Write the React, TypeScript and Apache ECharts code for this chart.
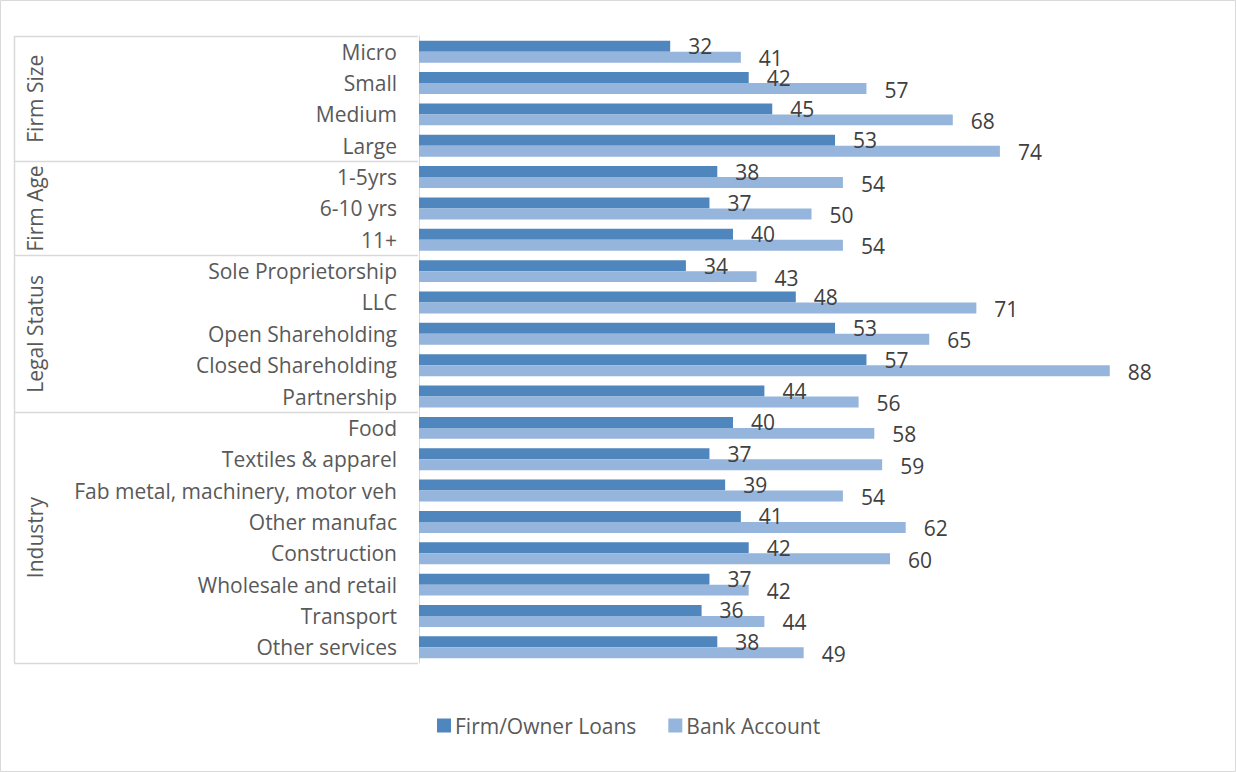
import React, { useEffect, useRef } from "react";
import * as echarts from "echarts";

const categories = [
  "Micro", "Small", "Medium", "Large",
  "1-5yrs", "6-10 yrs", "11+",
  "Sole Proprietorship", "LLC", "Open Shareholding", "Closed Shareholding", "Partnership",
  "Food", "Textiles & apparel", "Fab metal, machinery, motor veh", "Other manufac",
  "Construction", "Wholesale and retail", "Transport", "Other services",
];
const firmOwnerLoans = [32, 42, 45, 53, 38, 37, 40, 34, 48, 53, 57, 44, 40, 37, 39, 41, 42, 37, 36, 38];
const bankAccount = [41, 57, 68, 74, 54, 50, 54, 43, 71, 65, 88, 56, 58, 59, 54, 62, 60, 42, 44, 49];
const groups = [
  { name: "Firm Size", first: 0, last: 3 },
  { name: "Firm Age", first: 4, last: 6 },
  { name: "Legal Status", first: 7, last: 11 },
  { name: "Industry", first: 12, last: 19 },
];

const FONT = "'Open Sans', sans-serif";
const FS = 21;
const LINE = "#d9d9d9";

export default function App() {
  const ref = useRef<HTMLDivElement>(null);
  useEffect(() => {
    document.body.style.margin = "0";
    const chart = echarts.init(ref.current!, null, { renderer: "svg" });
    chart.setOption({
      animation: false,
      backgroundColor: "#ffffff",
      textStyle: { fontFamily: FONT },
      grid: { left: 419, right: 32, top: 36, bottom: 109, containLabel: false },
      xAxis: {
        type: "value", min: 0, max: 100,
        show: false, splitLine: { show: false },
      },
      yAxis: {
        type: "category", data: categories, inverse: true,
        axisLine: { show: true, lineStyle: { color: LINE, width: 1 } },
        axisTick: { show: false },
        axisLabel: { color: "#595959", fontSize: FS, fontFamily: FONT, margin: 22 },
      },
      legend: {
        data: ["Firm/Owner Loans", "Bank Account"],
        left: 432, top: 710,
        itemWidth: 14, itemHeight: 14, itemGap: 32,
        icon: "rect",
        textStyle: { color: "#595959", fontSize: FS, fontFamily: FONT, padding: [0, 0, 0, -1] },
      },
      series: [
        {
          name: "Firm/Owner Loans", type: "bar", data: firmOwnerLoans,
          barGap: "0%", barCategoryGap: "30%",
          itemStyle: { color: "#4F86BD" },
          label: { show: true, position: "right", distance: 18, color: "#404040", fontSize: FS, fontFamily: FONT, offset: [0, 0] },
        },
        {
          name: "Bank Account", type: "bar", data: bankAccount,
          itemStyle: { color: "#95B5DC" },
          label: { show: true, position: "right", distance: 18, color: "#404040", fontSize: FS, fontFamily: FONT, offset: [0, 1] },
        },
      ],
    });

    const p0 = chart.convertToPixel({ yAxisIndex: 0 }, categories[0]) as number;
    const p1 = chart.convertToPixel({ yAxisIndex: 0 }, categories[1]) as number;
    const band = p1 - p0;
    const gLeft = 14;
    const gRight = 418;
    const graphics: any[] = [
      { type: "rect", shape: { x: 0.5, y: 0.5, width: 1235, height: 771 }, style: { fill: "none", stroke: LINE, lineWidth: 1 }, z: -1 },
    ];
    let bottomEdge = 0;
    groups.forEach((g) => {
      const top = (chart.convertToPixel({ yAxisIndex: 0 }, categories[g.first]) as number) - band / 2;
      const bot = (chart.convertToPixel({ yAxisIndex: 0 }, categories[g.last]) as number) + band / 2;
      bottomEdge = bot;
      graphics.push({
        type: "line", shape: { x1: gLeft, y1: Math.round(top) + 0.5, x2: gRight, y2: Math.round(top) + 0.5 },
        style: { stroke: LINE, lineWidth: 1.5 },
      });
      graphics.push({
        type: "text", x: 35, y: (top + bot) / 2, rotation: Math.PI / 2,
        style: { text: g.name, fill: "#595959", font: `${FS}px ${FONT}`, textAlign: "center", textVerticalAlign: "middle" },
      });
    });
    graphics.push({
      type: "line", shape: { x1: gLeft, y1: Math.round(bottomEdge) + 0.5, x2: gRight, y2: Math.round(bottomEdge) + 0.5 },
      style: { stroke: LINE, lineWidth: 1.5 },
    });
    const firstTop = p0 - band / 2;
    graphics.push({
      type: "line", shape: { x1: gLeft + 0.5, y1: firstTop, x2: gLeft + 0.5, y2: bottomEdge },
      style: { stroke: LINE, lineWidth: 1.5 },
    });
    chart.setOption({ graphic: graphics });
    return () => chart.dispose();
  }, []);
  return <div ref={ref} style={{ width: 1236, height: 772 }} />;
}
